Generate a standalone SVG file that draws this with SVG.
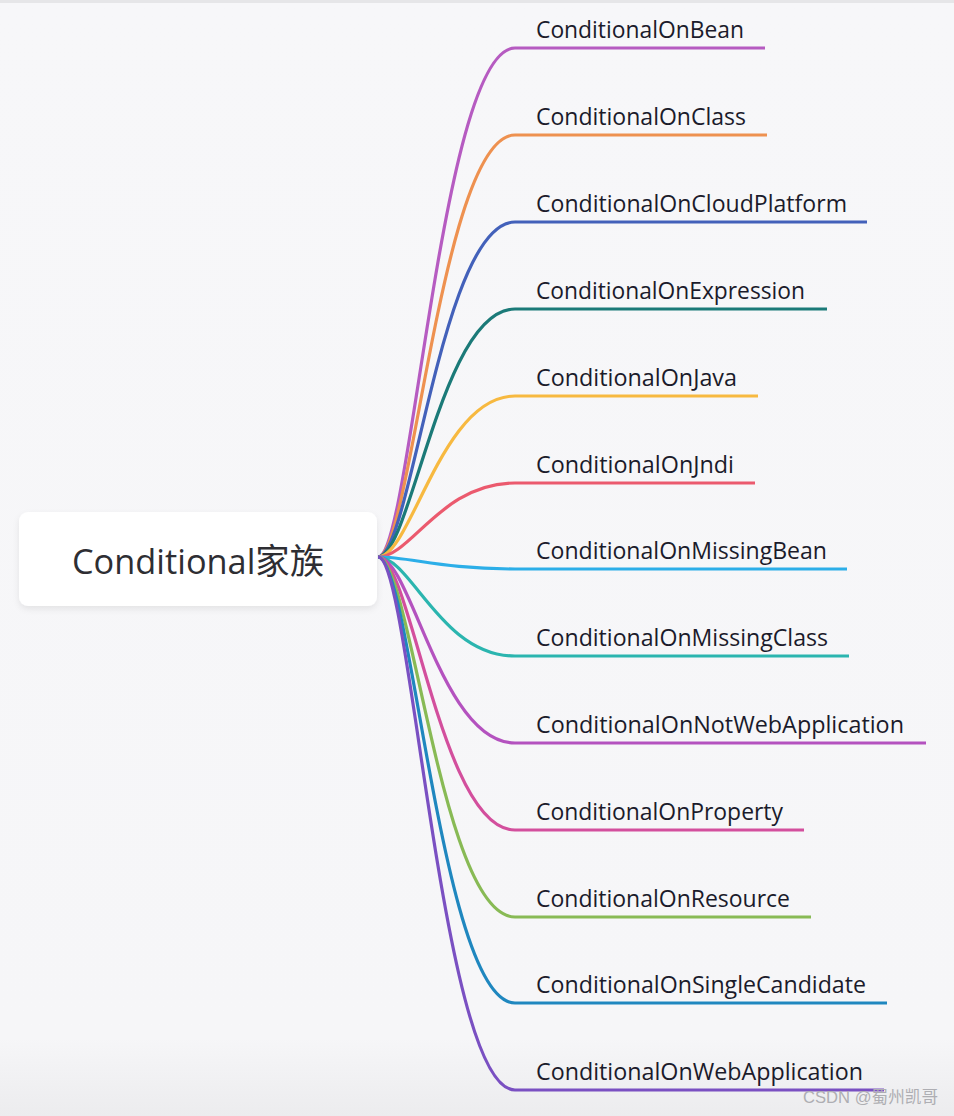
<svg xmlns="http://www.w3.org/2000/svg" width="954" height="1116" viewBox="0 0 954 1116">
<style>
.lbl{font-family:"Open Sans","Noto Sans","Liberation Sans",sans-serif;font-size:24px;fill:#1b1b2b;}
.root{font-family:"Open Sans","Noto Sans CJK SC",sans-serif;font-size:35px;fill:#2e2e33;}
.wm{font-family:"Liberation Sans","Noto Sans CJK SC",sans-serif;font-size:17px;fill:#aeaeb3;}
.c{fill:none;stroke-width:3.2;stroke-linecap:butt;}
</style>
<defs>
<linearGradient id="bg" x1="0" y1="0" x2="0" y2="1">
<stop offset="0" stop-color="#f7f7f9"/>
<stop offset="0.93" stop-color="#f6f6f8"/>
<stop offset="1" stop-color="#ececee"/>
</linearGradient>
<filter id="sh" x="-10%" y="-20%" width="120%" height="150%">
<feDropShadow dx="0" dy="3" stdDeviation="3" flood-color="#000" flood-opacity="0.08"/>
</filter>
</defs>
<rect x="0" y="0" width="954" height="1116" fill="url(#bg)"/>
<rect x="0" y="0" width="954" height="3" fill="#e6e6e8"/>
<g id="connectors">
<path class="c" stroke="#b65bc1" d="M378,557 C411,557 441,48 515,48 H765"/>
<path class="c" stroke="#ee9150" d="M378,557 C411,557 441,135 515,135 H767"/>
<path class="c" stroke="#4361ba" d="M378,557 C411,557 441,222 515,222 H867"/>
<path class="c" stroke="#1b7a78" d="M378,557 C411,557 441,309 515,309 H827"/>
<path class="c" stroke="#f7b940" d="M378,557 C411,557 441,396 515,396 H758"/>
<path class="c" stroke="#eb5a6e" d="M378,557 C411,557 441,483 515,483 H755"/>
<path class="c" stroke="#2caee8" d="M378,557 C411,557 441,569 515,569 H847"/>
<path class="c" stroke="#2bb5af" d="M378,557 C411,557 441,656 515,656 H849"/>
<path class="c" stroke="#b452bf" d="M378,557 C411,557 441,743 515,743 H926"/>
<path class="c" stroke="#d34f9d" d="M378,557 C411,557 441,830 515,830 H804"/>
<path class="c" stroke="#88ba55" d="M378,557 C411,557 441,917 515,917 H811"/>
<path class="c" stroke="#1f87bf" d="M378,557 C411,557 441,1003 515,1003 H887"/>
<path class="c" stroke="#7a50c2" d="M378,557 C411,557 441,1090 515,1090 H884"/>
</g>
<g id="root">
<rect x="19" y="512" width="358" height="94" rx="9" fill="#ffffff" filter="url(#sh)"/>
<text class="root" x="72" y="574" textLength="252" lengthAdjust="spacingAndGlyphs">Conditional家族</text>
</g>
<g id="n1"><text class="lbl" x="536" y="38" textLength="208" lengthAdjust="spacingAndGlyphs">ConditionalOnBean</text></g>
<g id="n2"><text class="lbl" x="536" y="125" textLength="210" lengthAdjust="spacingAndGlyphs">ConditionalOnClass</text></g>
<g id="n3"><text class="lbl" x="536" y="212" textLength="311" lengthAdjust="spacingAndGlyphs">ConditionalOnCloudPlatform</text></g>
<g id="n4"><text class="lbl" x="536" y="299" textLength="269" lengthAdjust="spacingAndGlyphs">ConditionalOnExpression</text></g>
<g id="n5"><text class="lbl" x="536" y="386" textLength="201" lengthAdjust="spacingAndGlyphs">ConditionalOnJava</text></g>
<g id="n6"><text class="lbl" x="536" y="473" textLength="198" lengthAdjust="spacingAndGlyphs">ConditionalOnJndi</text></g>
<g id="n7"><text class="lbl" x="536" y="559" textLength="291" lengthAdjust="spacingAndGlyphs">ConditionalOnMissingBean</text></g>
<g id="n8"><text class="lbl" x="536" y="646" textLength="292" lengthAdjust="spacingAndGlyphs">ConditionalOnMissingClass</text></g>
<g id="n9"><text class="lbl" x="536" y="733" textLength="368" lengthAdjust="spacingAndGlyphs">ConditionalOnNotWebApplication</text></g>
<g id="n10"><text class="lbl" x="536" y="820" textLength="247" lengthAdjust="spacingAndGlyphs">ConditionalOnProperty</text></g>
<g id="n11"><text class="lbl" x="536" y="907" textLength="254" lengthAdjust="spacingAndGlyphs">ConditionalOnResource</text></g>
<g id="n12"><text class="lbl" x="536" y="993" textLength="330" lengthAdjust="spacingAndGlyphs">ConditionalOnSingleCandidate</text></g>
<g id="n13"><text class="lbl" x="536" y="1080" textLength="327" lengthAdjust="spacingAndGlyphs">ConditionalOnWebApplication</text></g>
<text class="wm" x="803" y="1103" textLength="135" lengthAdjust="spacingAndGlyphs">CSDN @蜀州凯哥</text>
</svg>
